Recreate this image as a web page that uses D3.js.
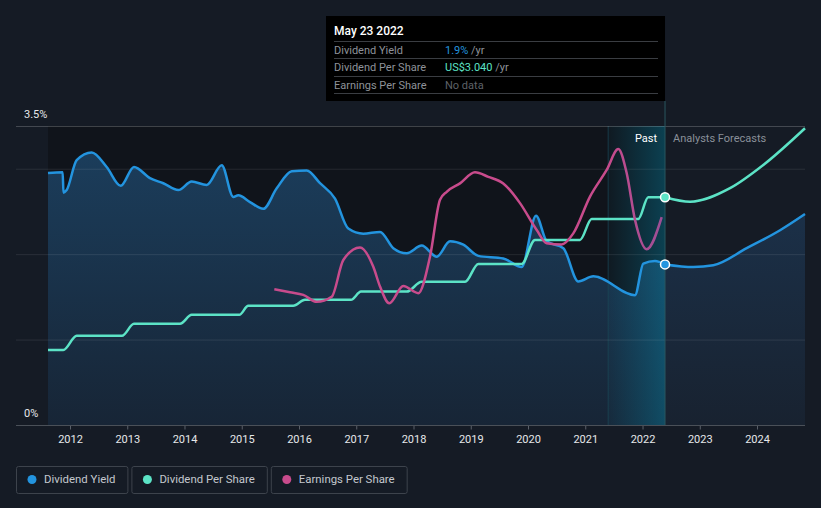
<!DOCTYPE html>
<html><head><meta charset="utf-8">
<script src="https://cdn.jsdelivr.net/npm/d3@7"></script>
<style>
html,body{margin:0;padding:0;background:#151b25;}
svg{display:block;font-family:Roboto,"Noto Sans",sans-serif;}
</style></head>
<body><svg id="c" width="821" height="508"></svg>
<script>
// ---- data (decimal year, value) ----
const yieldYears = [2011.616,2011.872,2011.886,2011.942,2012.117,2012.379,2012.641,2012.886,2013.118,2013.397,2013.630,2013.892,2014.126,2014.388,2014.650,2014.852,2014.940,2015.144,2015.376,2015.611,2015.873,2016.135,2016.367,2016.629,2016.861,2017.123,2017.415,2017.647,2017.881,2018.143,2018.405,2018.638,2018.870,2019.132,2019.568,2019.890,2020.140,2020.327,2020.617,2020.879,2021.141,2021.869,2022.014,2022.218,2022.393];
const yieldPct = [2.95,2.96,2.72,2.75,3.10,3.19,3.02,2.80,3.02,2.89,2.83,2.75,2.85,2.81,3.04,2.67,2.69,2.61,2.53,2.77,2.97,2.98,2.83,2.65,2.30,2.24,2.26,2.07,2.01,2.10,1.97,2.15,2.11,1.98,1.95,1.85,2.45,2.15,2.07,1.68,1.74,1.52,1.89,1.92,1.88];
const yieldFcYears = [2022.393,2022.887,2023.236,2023.820,2024.402,2024.838];
const yieldFcPct = [1.88,1.85,1.87,2.07,2.28,2.47];

const dpsYears = [2011.616,2011.883,2012.117,2012.908,2013.118,2013.921,2014.126,2014.957,2015.114,2015.900,2016.105,2016.908,2017.083,2017.881,2018.143,2018.900,2019.132,2019.890,2020.122,2020.908,2021.112,2021.926,2022.101,2022.393];
const dpsUsd = [1.00,1.00,1.19,1.19,1.35,1.35,1.47,1.47,1.59,1.59,1.67,1.67,1.78,1.78,1.91,1.91,2.15,2.15,2.47,2.47,2.75,2.75,3.04,3.04];
const dpsFcYears = [2022.393,2022.830,2023.528,2024.110,2024.838];
const dpsFcUsd = [3.04,2.98,3.16,3.47,3.96];

const epsYears = [2015.569,2015.843,2016.075,2016.309,2016.571,2016.774,2017.066,2017.298,2017.415,2017.577,2017.822,2018.084,2018.288,2018.463,2018.580,2018.812,2019.074,2019.307,2019.568,2019.860,2020.152,2020.326,2020.588,2020.791,2021.083,2021.374,2021.577,2021.724,2021.869,2022.073,2022.335];
const epsUsd = [4.54,4.44,4.35,4.12,4.29,5.52,5.94,5.29,4.63,4.07,4.65,4.41,5.63,7.53,7.80,8.08,8.45,8.30,8.08,7.42,6.52,6.08,6.04,6.41,7.64,8.53,9.23,8.42,6.86,5.88,6.95];

const yearTicks = [2012,2013,2014,2015,2016,2017,2018,2019,2020,2021,2022,2023,2024];
const yieldTickLabels = [[0,"0%"],[3.5,"3.5%"]];
const gridValues = [1,2,3];
const tooltipRows = [["Dividend Yield","1.9%"],["Dividend Per Share","US$3.040"],["Earnings Per Share","No data"]];
const tooltipTitle = "May 23 2022";
const nowYear = 2022.393;
const pastStart = 2021.40;
const legendNames = ["Dividend Yield","Dividend Per Share","Earnings Per Share"];

// ---- styles ----
const C = {blue:"#2394df", teal:"#5ce3c6", pink:"#c84b8c"};

const svg = d3.select("#c");
const W = 821, H = 508;
svg.append("rect").attr("width",W).attr("height",H).attr("fill","#151b25");

const x = d3.scaleLinear().domain([2011.616, 2024.838]).range([48, 805]);
const y = d3.scaleLinear().domain([0, 3.5]).range([425, 126]);
const yDps = d3.scaleLinear().domain([0, 3.99]).range([425, 126]);
const yEps = d3.scaleLinear().domain([0, 10]).range([425, 126]);

const defs = svg.append("defs");
const gArea = defs.append("linearGradient").attr("id","ga").attr("x1",0).attr("y1",0).attr("x2",0).attr("y2",1);
gArea.append("stop").attr("offset","0%").attr("stop-color","#1b3d5b");
gArea.append("stop").attr("offset","100%").attr("stop-color","#172536");
const gAreaF = defs.append("linearGradient").attr("id","gaf").attr("x1",0).attr("y1",0).attr("x2",0).attr("y2",1);
gAreaF.append("stop").attr("offset","0%").attr("stop-color","#1b3048");
gAreaF.append("stop").attr("offset","100%").attr("stop-color","#182230");
const gHi = defs.append("linearGradient").attr("id","gh").attr("x1",0).attr("y1",0).attr("x2",1).attr("y2",0);
gHi.append("stop").attr("offset","0%").attr("stop-color","#00a0c8").attr("stop-opacity",0.04);
gHi.append("stop").attr("offset","100%").attr("stop-color","#00a8d0").attr("stop-opacity",0.3);
const gEps = defs.append("linearGradient").attr("id","ge").attr("gradientUnits","userSpaceOnUse")
  .attr("x1",x(pastStart)).attr("y1",0).attr("x2",x(nowYear)).attr("y2",0);
gEps.append("stop").attr("offset","0%").attr("stop-color",C.pink);
gEps.append("stop").attr("offset","100%").attr("stop-color","#9a4f96");

// past region darker background
svg.append("rect").attr("x",x.range()[0]).attr("y",y(3.5)).attr("width",x(nowYear)-x.range()[0])
  .attr("height",y(0)-y(3.5)).attr("fill","#10141b");

// area fill under dividend yield
const areaPast = d3.area().x(d=>x(d[0])).y0(y(0)).y1(d=>y(d[1])).curve(d3.curveMonotoneX);
const yieldPast = yieldYears.map((t,i)=>[t,yieldPct[i]]);
const yieldFc = yieldFcYears.map((t,i)=>[t,yieldFcPct[i]]);
svg.append("path").datum(yieldPast).attr("d",areaPast).attr("fill","url(#ga)");
svg.append("path").datum(yieldFc).attr("d",areaPast).attr("fill","url(#gaf)");

// highlight last year
svg.append("rect").attr("x",x(pastStart)).attr("y",y(3.5)).attr("width",x(nowYear)-x(pastStart))
  .attr("height",y(0)-y(3.5)).attr("fill","url(#gh)");
svg.append("line").attr("x1",x(pastStart)).attr("x2",x(pastStart)).attr("y1",y(3.5)).attr("y2",y(0))
  .attr("stroke","#1c4a58").attr("stroke-width",1).attr("opacity",0.7);

// gridlines
gridValues.forEach(v=>{
  svg.append("line").attr("x1",16).attr("x2",805).attr("y1",y(v)+0.5).attr("y2",y(v)+0.5)
    .attr("stroke","#ffffff").attr("stroke-opacity",0.09);
});
svg.append("line").attr("x1",16).attr("x2",805).attr("y1",y(3.5)+0.5).attr("y2",y(3.5)+0.5)
  .attr("stroke","#ffffff").attr("stroke-opacity",0.2);

// y labels
yieldTickLabels.forEach(([v,l])=>{
  svg.append("text").attr("x",24).attr("y",y(v)-8).attr("fill","#e6e8ea").attr("font-size",11).text(l);
});

// x axis
const xAxis = d3.axisBottom(x).tickValues(yearTicks).tickFormat(d3.format("d")).tickSize(4).tickPadding(6);
const gx = svg.append("g").attr("transform",`translate(0,${y(0)+0.5})`).call(xAxis);
gx.select(".domain").remove();
gx.selectAll(".tick line").attr("stroke","#5b616a");
gx.selectAll(".tick text").attr("fill","#e6e8ea").attr("font-size",11).attr("font-family","Roboto,sans-serif");
svg.append("line").attr("x1",16).attr("x2",805).attr("y1",y(0)+0.5).attr("y2",y(0)+0.5)
  .attr("stroke","#4a5058").attr("stroke-width",1);

// now line
svg.append("line").attr("x1",x(nowYear)).attr("x2",x(nowYear)).attr("y1",101).attr("y2",y(0))
  .attr("stroke","#2a5560").attr("stroke-width",1);

// lines
const line = (ys)=>d3.line().x(d=>x(d[0])).y(d=>ys(d[1])).curve(d3.curveMonotoneX);
const dpsPast = dpsYears.map((t,i)=>[t,dpsUsd[i]]);
const dpsFc = dpsFcYears.map((t,i)=>[t,dpsFcUsd[i]]);
const epsPast = epsYears.map((t,i)=>[t,epsUsd[i]]);

svg.append("path").datum(yieldPast).attr("d",line(y)).attr("fill","none").attr("stroke",C.blue).attr("stroke-width",2.5);
svg.append("path").datum(yieldFc).attr("d",line(y)).attr("fill","none").attr("stroke",C.blue).attr("stroke-width",2.5);
svg.append("path").datum(dpsPast).attr("d",line(yDps)).attr("fill","none").attr("stroke",C.teal).attr("stroke-width",2.5);
svg.append("path").datum(dpsFc).attr("d",line(yDps)).attr("fill","none").attr("stroke",C.teal).attr("stroke-width",2.5);
svg.append("path").datum(epsPast).attr("d",line(yEps)).attr("fill","none").attr("stroke","url(#ge)").attr("stroke-width",2.5);

// markers
svg.append("circle").attr("cx",x(nowYear)).attr("cy",yDps(dpsUsd[dpsUsd.length-1])).attr("r",4.5)
  .attr("fill",C.teal).attr("stroke","#ffffff").attr("stroke-width",1.5);
svg.append("circle").attr("cx",x(nowYear)).attr("cy",y(yieldPct[yieldPct.length-1])).attr("r",4.5)
  .attr("fill",C.blue).attr("stroke","#ffffff").attr("stroke-width",1.5);

// Past / forecast labels
svg.append("text").attr("x",x(nowYear)-8).attr("y",142).attr("text-anchor","end").attr("fill","#ffffff")
  .attr("font-size",11).text("Past");
svg.append("text").attr("x",x(nowYear)+8).attr("y",142).attr("fill","#8a9099")
  .attr("font-size",11).text("Analysts Forecasts");

// tooltip
const tt = svg.append("g");
tt.append("rect").attr("x",326).attr("y",16).attr("width",x(nowYear)-326).attr("height",85).attr("fill","#000000");
tt.append("text").attr("x",334).attr("y",35).attr("fill","#ffffff").attr("font-size",12).attr("font-weight",500).text(tooltipTitle);
const valColors = [C.blue, C.teal, "#5e6268"];
const sepY = [41,58,76,93];
sepY.forEach(sy=>{
  tt.append("line").attr("x1",334).attr("x2",658).attr("y1",sy+0.5).attr("y2",sy+0.5).attr("stroke","#3a3d42");
});
tooltipRows.forEach((r,i)=>{
  const ty = sepY[i]+13;
  tt.append("text").attr("x",334).attr("y",ty).attr("fill","#8e9299").attr("font-size",11).text(r[0]);
  const t = tt.append("text").attr("x",445).attr("y",ty).attr("font-size",11);
  t.append("tspan").attr("fill",valColors[i]).text(r[1]);
  if (i<2) t.append("tspan").attr("fill","#8e9299").text(" /yr");
});

// legend
const legColors = [C.blue, C.teal, C.pink];
let lx = 16;
legendNames.forEach((n,i)=>{
  const g = svg.append("g");
  const txt = g.append("text").attr("x",lx+28).attr("y",483).attr("fill","#c4c8ce").attr("font-size",11.4).text(n);
  const tw = txt.node().getComputedTextLength();
  const w = 28 + tw + 12;
  g.insert("rect","text").attr("x",lx+0.5).attr("y",466.5).attr("width",w).attr("height",27).attr("rx",2)
    .attr("fill","none").attr("stroke","#3d434c");
  g.append("circle").attr("cx",lx+16).attr("cy",479.5).attr("r",4.5).attr("fill",legColors[i]);
  lx += w + 4;
});
</script></body></html>
